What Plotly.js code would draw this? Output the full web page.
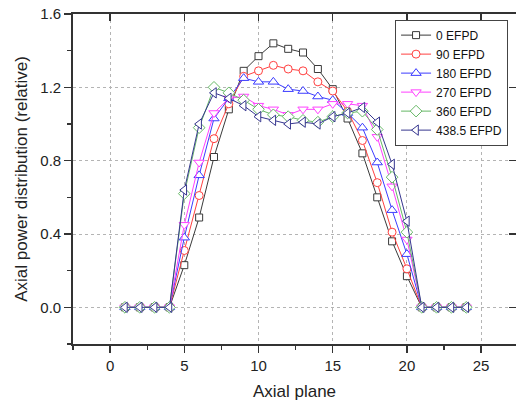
<!DOCTYPE html>
<html>
<head>
<meta charset="utf-8">
<script src="https://cdn.plot.ly/plotly-3.0.1.min.js"></script>
<style>html,body{margin:0;padding:0;background:#fff;}#chart{width:516px;height:402px;}</style>
</head>
<body>
<div id="chart"></div>
<script>
// Axial plane numbers
var axialPlane = [1,2,3,4,5,6,7,8,9,10,11,12,13,14,15,16,17,18,19,20,21,22,23,24];

// Series values (relative axial power)
var efpd0   = [0,0,0,0,0.23,0.49,0.82,1.08,1.29,1.37,1.44,1.41,1.39,1.30,1.19,1.03,0.84,0.60,0.36,0.17,0,0,0,0];
var efpd90  = [0,0,0,0,0.31,0.61,0.92,1.11,1.26,1.29,1.32,1.30,1.29,1.23,1.18,1.07,0.91,0.68,0.41,0.21,0,0,0,0];
var efpd180 = [0,0,0,0,0.38,0.72,1.03,1.14,1.25,1.23,1.23,1.19,1.18,1.15,1.13,1.06,0.98,0.79,0.53,0.29,0,0,0,0];
var efpd270 = [0,0,0,0,0.45,0.79,1.06,1.14,1.15,1.10,1.08,1.05,1.08,1.08,1.11,1.11,1.10,0.93,0.66,0.37,0,0,0,0];
var efpd360 = [0,0,0,0,0.62,0.98,1.20,1.17,1.13,1.08,1.05,1.04,1.02,1.01,1.04,1.06,1.07,0.97,0.71,0.41,0,0,0,0];
var efpd4385= [0,0,0,0,0.64,1.00,1.17,1.14,1.10,1.04,1.02,1.00,1.01,1.00,1.04,1.06,1.09,1.01,0.78,0.47,0,0,0,0];

var seriesNames = ["0 EFPD","90 EFPD","180 EFPD","270 EFPD","360 EFPD","438.5 EFPD"];
var seriesValues = [efpd0, efpd90, efpd180, efpd270, efpd360, efpd4385];
var seriesColors = ["#3a3a3a","#ff4040","#3c3cff","#ff40ff","#66b866","#36368f"];
var seriesSymbols = ["square","circle","triangle-up","triangle-down","diamond","triangle-left"];
var seriesSizes = [7,8,9,9,9,9];

var traces = seriesNames.map(function(name, i){
  return {
    type: "scatter",
    mode: "lines+markers",
    name: name,
    x: axialPlane,
    y: seriesValues[i],
    line: {color: seriesColors[i], width: 1},
    marker: {symbol: seriesSymbols[i], size: seriesSizes[i], color: "rgba(255,255,255,1)",
             line: {color: seriesColors[i], width: 1}},
    cliponaxis: false
  };
});

// invisible helper trace so mirrored (top/right) axes with inside ticks are drawn
traces.push({type:"scatter", x:[], y:[], xaxis:"x2", yaxis:"y2", showlegend:false, hoverinfo:"skip"});

var fontFam = "Arial, 'Liberation Sans', sans-serif";
var axisCol = "#333333";
var xRange = [-2.5, 27.35];
var yRange = [-0.2, 1.6];

var layout = {
  width: 516, height: 402,
  margin: {l: 73, r: 0, t: 14, b: 58},
  paper_bgcolor: "#ffffff",
  plot_bgcolor: "#ffffff",
  font: {family: fontFam, color: "#222222", size: 15},
  showlegend: true,
  legend: {
    x: 0.727, y: 0.983, xanchor: "left", yanchor: "top",
    bgcolor: "#ffffff", bordercolor: "#444444", borderwidth: 1,
    font: {family: fontFam, size: 12, color: "#111111"},
    tracegroupgap: 0
  },
  xaxis: {
    range: xRange, tickmode: "linear", tick0: 0, dtick: 5,
    ticks: "outside", ticklen: 7, tickwidth: 1.5, tickcolor: axisCol,
    showline: true, linecolor: axisCol, linewidth: 1.8, mirror: true,
    showgrid: true, gridcolor: "#b4b4b4", griddash: "dot", gridwidth: 1,
    zeroline: false,
    minor: {dtick: 2.5, tick0: 0, ticks: "outside", ticklen: 4, tickwidth: 1.2, tickcolor: axisCol, showgrid: false},
    tickfont: {size: 15, family: fontFam, color: "#222222"},
    title: {text: "Axial plane", font: {size: 17, family: fontFam, color: "#222222"}, standoff: 12}
  },
  yaxis: {
    range: yRange, tickmode: "linear", tick0: 0, dtick: 0.4, tickformat: ".1f",
    ticks: "outside", ticklen: 7, tickwidth: 1.5, tickcolor: axisCol,
    showline: true, linecolor: axisCol, linewidth: 1.8, mirror: true,
    showgrid: true, gridcolor: "#b4b4b4", griddash: "dot", gridwidth: 1,
    zeroline: false,
    minor: {dtick: 0.2, tick0: 0, ticks: "outside", ticklen: 4, tickwidth: 1.2, tickcolor: axisCol, showgrid: false},
    tickfont: {size: 15, family: fontFam, color: "#222222"},
    title: {text: "Axial power distribution (relative)", font: {size: 17, family: fontFam, color: "#222222"}, standoff: 8}
  },
  xaxis2: {
    overlaying: "x", side: "top", anchor: "y2", range: xRange,
    tickmode: "linear", tick0: 0, dtick: 5, ticks: "inside", ticklen: 7, tickwidth: 1.5, tickcolor: axisCol,
    showticklabels: false, showgrid: false, zeroline: false, showline: false
  },
  yaxis2: {
    overlaying: "y", side: "right", anchor: "x2", range: yRange,
    tickmode: "linear", tick0: 0, dtick: 0.4, ticks: "inside", ticklen: 7, tickwidth: 1.5, tickcolor: axisCol,
    showticklabels: false, showgrid: false, zeroline: false, showline: false
  }
};

Plotly.newPlot("chart", traces, layout, {staticPlot: true, displayModeBar: false});
</script>
</body>
</html>
